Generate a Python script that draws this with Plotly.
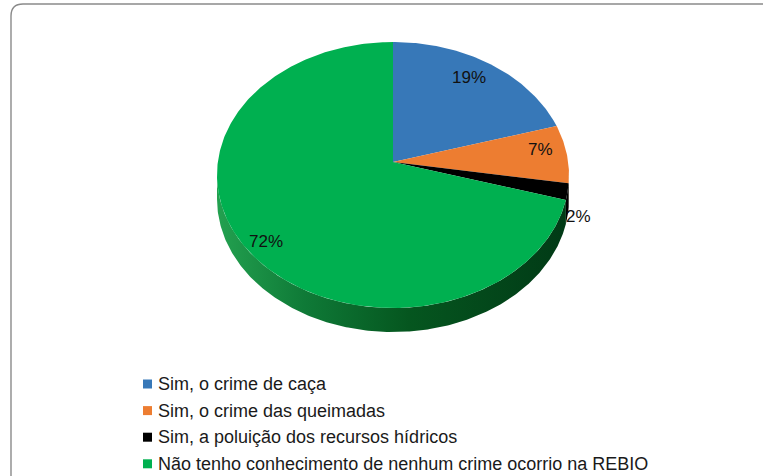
import numpy as np
import plotly.graph_objects as go

# Survey answers and their shares (%)
categories = [
    "Sim, o crime de caça",
    "Sim, o crime das queimadas",
    "Sim, a poluição dos recursos hídricos",
    "Não tenho conhecimento de nenhum crime ocorrio na REBIO",
]
values = [19, 7, 2, 72]
colors = ["#3778b8", "#ed7d31", "#000000", "#00b050"]
side_colors = ["#1f4f7c", "#a5531c", "#000000", None]

# Layout geometry of the tilted pie (pixel units)
W, H = 763, 476
CX, CY = 393.0, 175.0        # centre of the top ellipse
APEX_Y = 162.0               # where the slices meet (tilt perspective)
A, B = 176.0, 133.0          # ellipse semi-axes
DEPTH = 24.0                 # thickness of the disc

# Label placement along each slice's mid-angle (fraction of radius, extra y)
label_r = [0.77, 0.85, 1.06, 0.94]
label_dy = [0, 5, 37, 0]


def arc(t0, t1, n=None):
    """Points on the ellipse rim, angles in degrees clockwise from 12 o'clock."""
    n = n or max(4, int(abs(t1 - t0) * 1.5))
    t = np.radians(np.linspace(t0, t1, n))
    return CX + A * np.sin(t), CY - B * np.cos(t)


fig = go.Figure()

total = float(sum(values))
bounds = np.concatenate([[0], np.cumsum(values) / total * 360.0])

# Side wall (front half of the disc, 90°..270°)
for i, v in enumerate(values):
    s0, s1 = max(bounds[i], 90.0), min(bounds[i + 1], 270.0)
    if s1 <= s0:
        continue
    xs, ys = arc(s0, s1)
    px = np.concatenate([xs, xs[::-1]])
    py = np.concatenate([ys, ys[::-1] + DEPTH])
    kw = dict(x=px, y=py, mode="lines", fill="toself",
              line=dict(width=0), hoverinfo="skip", showlegend=False)
    if side_colors[i] is None:
        kw["fillgradient"] = dict(
            type="horizontal",
            colorscale=[[0.0, "#23a150"], [0.25, "#0f7a37"],
                        [0.55, "#05561f"], [1.0, "#013a16"]],
        )
    else:
        kw["fillcolor"] = side_colors[i]
    fig.add_trace(go.Scatter(**kw))

# Top face slices
for i, v in enumerate(values):
    xs, ys = arc(bounds[i], bounds[i + 1])
    px = np.concatenate([[CX], xs, [CX]])
    py = np.concatenate([[APEX_Y], ys, [APEX_Y]])
    fig.add_trace(go.Scatter(
        x=px, y=py, mode="lines", fill="toself", fillcolor=colors[i],
        line=dict(width=0), name=categories[i],
        text=f"{categories[i]}: {v}%", hoverinfo="text", showlegend=False,
    ))

# Percentage labels
for i, v in enumerate(values):
    mid = np.radians((bounds[i] + bounds[i + 1]) / 2)
    lx = CX + A * np.sin(mid) * label_r[i]
    ly = APEX_Y - B * np.cos(mid) * label_r[i] + label_dy[i]
    fig.add_annotation(x=lx, y=ly, text=f"{v}%", showarrow=False,
                       font=dict(family="Liberation Sans, Arial", size=17,
                                 color="#111111"))

# Legend: colour swatch + text per category
LEG_X, LEG_Y0, LEG_DY, SW = 147.5, 384.0, 26.6, 9
shapes = []
for i, name in enumerate(categories):
    y = LEG_Y0 + i * LEG_DY
    shapes.append(dict(type="rect", xref="x", yref="y",
                       x0=LEG_X - SW / 2, x1=LEG_X + SW / 2,
                       y0=y - SW / 2, y1=y + SW / 2,
                       fillcolor=colors[i], line=dict(width=0)))
    fig.add_annotation(x=LEG_X + 8.5, y=y, text=name, showarrow=False,
                       xanchor="left", yanchor="middle",
                       font=dict(family="Liberation Sans, Arial", size=18,
                                 color="#1a1a1a"))

# Rounded chart-area frame
shapes.append(dict(type="path", xref="x", yref="y",
                   path="M 11,500 L 11,16 Q 11,4 23,4 L 780,4",
                   line=dict(color="#8a8a8a", width=1.4)))

fig.update_layout(
    width=W, height=H,
    margin=dict(l=0, r=0, t=0, b=0),
    paper_bgcolor="white", plot_bgcolor="white",
    xaxis=dict(range=[0, W], visible=False, fixedrange=True),
    yaxis=dict(range=[H, 0], visible=False, fixedrange=True),
    shapes=shapes,
    showlegend=False,
)

fig.write_html("out.html")
